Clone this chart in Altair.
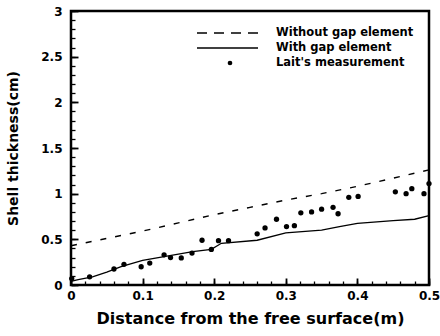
import altair as alt
import pandas as pd

# Lait's measurement
meas_x = [0.001, 0.026, 0.060, 0.074, 0.098, 0.110, 0.130, 0.139, 0.154, 0.169, 0.183,
          0.196, 0.206, 0.220, 0.260, 0.271, 0.287, 0.301, 0.312, 0.321, 0.336, 0.350,
          0.366, 0.373, 0.388, 0.401, 0.453, 0.468, 0.476, 0.493, 0.500]
meas_y = [0.07, 0.09, 0.175, 0.226, 0.20, 0.24, 0.33, 0.30, 0.296, 0.35, 0.49,
          0.39, 0.485, 0.485, 0.56, 0.625, 0.72, 0.64, 0.65, 0.79, 0.80, 0.83,
          0.85, 0.78, 0.96, 0.97, 1.02, 1.00, 1.055, 1.00, 1.11]

# Without gap element (dashed)
nogap_x = [0.0, 0.05, 0.10, 0.15, 0.20, 0.25, 0.30, 0.35, 0.40, 0.45, 0.50]
nogap_y = [0.43, 0.51, 0.59, 0.68, 0.77, 0.85, 0.93, 1.00, 1.08, 1.17, 1.26]

# With gap element (solid)
gap_x = [0.0, 0.01, 0.03, 0.05, 0.07, 0.10, 0.13, 0.17, 0.196, 0.21, 0.26, 0.30,
         0.35, 0.375, 0.40, 0.45, 0.48, 0.50]
gap_y = [0.04, 0.06, 0.09, 0.14, 0.20, 0.27, 0.31, 0.365, 0.39, 0.457, 0.49, 0.57,
         0.60, 0.64, 0.675, 0.705, 0.72, 0.76]

legend_labels = ["Without gap element", "With gap element", "Lait's measurement"]

x_major = [0, 0.1, 0.2, 0.3, 0.4, 0.5]
x_minor = [round(i * 0.02, 2) for i in range(26)]
y_major = [0, 0.5, 1, 1.5, 2, 2.5, 3]
y_minor = [round(i * 0.1, 1) for i in range(31)]

FONT = "DejaVu Sans"
H = 274
W = 358

xs = alt.Scale(domain=[0, 0.5], nice=False, zero=False)
ys = alt.Scale(domain=[0, 3], nice=False)

df_meas = pd.DataFrame({"x": meas_x, "y": meas_y})
df_nogap = pd.DataFrame({"x": nogap_x, "y": nogap_y})
df_gap = pd.DataFrame({"x": gap_x, "y": gap_y})

# main axes: labels and titles only
xaxis = alt.Axis(values=x_major, format="~g", title="Distance from the free surface(m)",
                 ticks=False, domain=False, grid=False, labelFont=FONT, labelFontWeight="bold",
                 labelFontSize=12, labelColor="black", labelPadding=5, labelFlush=False,
                 titleFont=FONT, titleFontWeight="bold", titleFontSize=16, titleColor="black",
                 titlePadding=9)
yaxis = alt.Axis(values=y_major, format="~g", title="Shell thickness(cm)",
                 ticks=False, domain=False, grid=False, labelFont=FONT, labelFontWeight="bold",
                 labelFontSize=12, labelColor="black", labelPadding=9, labelFlush=False,
                 titleFont=FONT, titleFontWeight="bold", titleFontSize=14, titleColor="black",
                 titlePadding=20)


def tick_axis(orient, vals, size, width, offset):
    # flipped-side axis moved onto the opposite edge so its ticks point inward
    return alt.Axis(orient=orient, values=vals, tickSize=size, tickWidth=width,
                    tickColor="black", labels=False, domain=False, grid=False,
                    title=None, offset=offset)


base_nogap = alt.Chart(df_nogap).mark_line(color="black", strokeWidth=1.4, strokeDash=[6, 9]).encode(
    x=alt.X("x:Q", scale=xs, axis=xaxis),
    y=alt.Y("y:Q", scale=ys, axis=yaxis),
)
# solid line layer carries the minor inward ticks
line_gap = alt.Chart(df_gap).mark_line(color="black", strokeWidth=1.3).encode(
    x=alt.X("x:Q", scale=xs, axis=tick_axis("top", x_minor, 4, 1.3, -H)),
    y=alt.Y("y:Q", scale=ys, axis=tick_axis("right", y_minor, 4, 1.3, -W)),
)
# measurement layer carries the major inward ticks
pts = alt.Chart(df_meas).mark_circle(color="black", opacity=1, size=28).encode(
    x=alt.X("x:Q", scale=xs, axis=tick_axis("top", x_major, 7, 1.8, -H)),
    y=alt.Y("y:Q", scale=ys, axis=tick_axis("right", y_major, 7, 1.8, -W)),
)

# manual legend
one = pd.DataFrame({"a": [0]})
leg_dash = alt.Chart(one).mark_rule(color="black", strokeWidth=1.3, strokeDash=[10, 7]).encode(
    x=alt.value(126), x2=alt.value(187), y=alt.value(22))
leg_solid = alt.Chart(one).mark_rule(color="black", strokeWidth=1.3).encode(
    x=alt.value(126), x2=alt.value(187), y=alt.value(37))
leg_pt = alt.Chart(one).mark_circle(color="black", opacity=1, size=22).encode(
    x=alt.value(159), y=alt.value(52))
leg_texts = [
    alt.Chart(one).mark_text(align="left", baseline="middle", font=FONT, fontWeight="bold",
                             fontSize=11.5, color="black").encode(
        x=alt.value(205), y=alt.value(ypix), text=alt.value(lab))
    for lab, ypix in zip(legend_labels, [22, 37, 52])
]

chart = alt.layer(base_nogap, line_gap, pts,
                  leg_dash, leg_solid, leg_pt, *leg_texts).resolve_axis(
    x="independent", y="independent"
).properties(
    width=W, height=H,
    autosize=alt.AutoSizeParams(type="none"),
    padding={"left": 71, "top": 11, "right": 11, "bottom": 51},
    background="white",
).configure_view(stroke="black", strokeWidth=2.5)

chart.save("out.html", embed_options={"renderer": "svg", "actions": False})
